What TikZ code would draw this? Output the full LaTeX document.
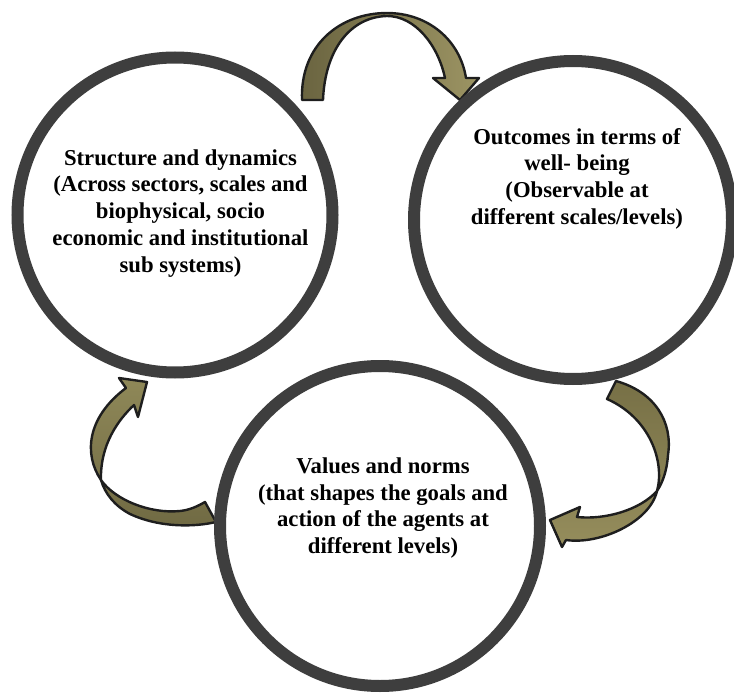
\documentclass[tikz,border=0pt]{standalone}
\usepackage{fontspec}
\setmainfont{Liberation Serif}
\definecolor{ringc}{HTML}{3E3E3E}
\definecolor{edgec}{HTML}{1E1E1E}
\definecolor{olvA}{HTML}{6A6440}
\definecolor{olvB}{HTML}{9C9463}
\definecolor{olvC}{HTML}{777046}
\definecolor{olvD}{HTML}{958D5C}
\definecolor{olvE}{HTML}{8F8858}
\definecolor{olvF}{HTML}{706A43}
\tikzset{
  ring/.style={draw=ringc, line width=12pt, fill=white},
  ribbon/.style={draw=edgec, line width=2.4pt, line join=round},
  label/.style={font=\fontsize{22.7}{26.7}\selectfont\bfseries, align=center, inner sep=0pt}
}
\begin{document}
\begin{tikzpicture}[x=1pt,y=-1pt]
\useasboundingbox (0,0) rectangle (734,695);
% top arrow
\path[ribbon, left color=olvA, right color=olvB]
  (302,100) .. controls (300,45) and (340,13) .. (387,13)
  .. controls (428,13) and (460,40) .. (466,78)
  -- (479,78) -- (460,100) -- (433,78) -- (445,78)
  .. controls (438,45) and (415,16) .. (387,16)
  .. controls (350,17) and (325,50) .. (323,100) -- cycle;
% right arrow
\path[ribbon, top color=olvC, bottom color=olvD]
  (616,381) .. controls (655,392) and (673,422) .. (668,455)
  .. controls (667,470) and (663,482) .. (657,491)
  .. controls (650,522) and (600,545) .. (566,540)
  -- (562,547) -- (550,520) -- (580,507) -- (577,517)
  .. controls (605,520) and (640,510) .. (657,491)
  .. controls (665,462) and (650,418) .. (607,399) -- cycle;
% left arrow
\path[ribbon, top color=olvE, bottom color=olvF]
  (126,388) -- (119,378) -- (147,382) -- (138,417) -- (134,405)
  .. controls (118,420) and (100,445) .. (101,480)
  .. controls (115,500) and (150,514) .. (180,511)
  .. controls (190,510) and (198,506) .. (205,502)
  -- (216,522)
  .. controls (195,527) and (160,528) .. (130,514)
  .. controls (115,506) and (105,494) .. (101,480)
  .. controls (84,455) and (86,418) .. (126,388) -- cycle;
% circles
\node[ring, circle, minimum size=2*157.5pt, inner sep=0pt] (structure) at (175,215) {};
\node[ring, circle, minimum size=2*159pt, inner sep=0pt] (outcomes) at (573,220) {};
\node[ring, circle, minimum size=2*160pt, inner sep=0pt] (values) at (380,526) {};
% texts
\node[label] (t1) at (180.5,213.2) {Structure and dynamics\\(Across sectors, scales and\\biophysical, socio\\economic and institutional\\sub systems)};
\node[label] (t2) at (577,178.5) {Outcomes in terms of\\well- being\\(Observable at\\different scales/levels)};
\node[label] (t3) at (383,508) {Values and norms\\(that shapes the goals and\\action of the agents at\\different levels)};
\end{tikzpicture}
\end{document}
